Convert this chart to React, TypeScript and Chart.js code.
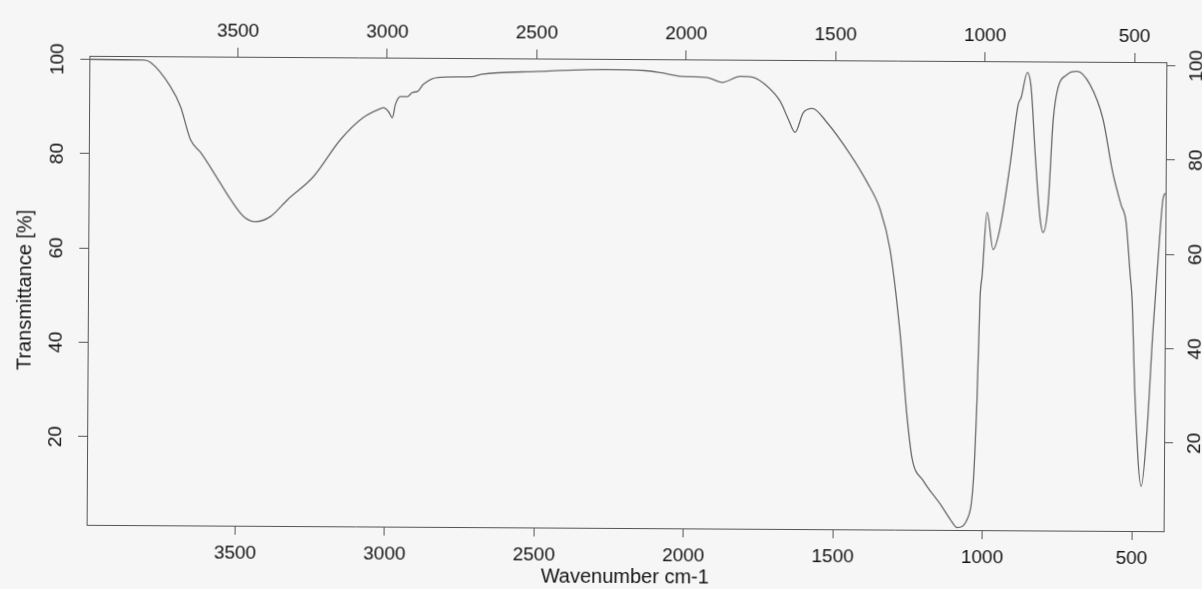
import React, { useEffect, useRef } from 'react';
import { Chart, registerables } from 'chart.js';

Chart.register(...registerables);

// Wavenumber (cm-1), high to low
const wavenumbers = [
  3995, 3816, 3792, 3725, 3691, 3657, 3623, 3579, 3522, 3478, 3438, 3388, 3331, 3245, 3155,
  3079, 3022, 3012, 2995, 2982, 2972, 2955, 2932, 2915, 2898, 2879, 2831, 2718, 2685, 2494,
  2273, 2139, 2087, 2009, 1929, 1879, 1818, 1775, 1728, 1684, 1657, 1634, 1607, 1577, 1527,
  1449, 1392, 1348, 1314, 1279, 1254, 1236, 1199, 1141, 1107, 1084, 1051, 1031, 1020, 1012,
  1005, 990, 969, 946, 914, 888, 878, 858, 845, 830, 813, 802, 786, 771, 758,
  725, 692, 648, 604, 571, 542, 525, 510, 503, 491, 469, 451, 433, 411, 402, 395,
];

// Transmittance (%) at each wavenumber above
const transmittance = [
  100.0, 99.9, 99.4, 94.3, 90.1, 83.1, 80.4, 76.2, 70.5, 66.9, 65.8, 66.9, 70.5, 75.4, 83.3,
  88.0, 89.9, 90.1, 89.3, 88.0, 90.8, 92.5, 92.5, 93.4, 93.6, 95.1, 96.6, 96.8, 97.3, 98.0,
  98.5, 98.3, 97.9, 97.1, 96.9, 95.9, 97.2, 97.0, 95.1, 91.9, 88.2, 85.4, 89.6, 90.5, 87.5,
  80.8, 74.9, 69.2, 60.7, 43.1, 25.4, 16.4, 11.8, 6.8, 3.55, 1.85, 3.55, 11.4, 29.0, 50.2,
  55.5, 68.7, 60.8, 65.5, 78.8, 91.6, 93.1, 98.4, 95.2, 81.0, 67.7, 64.5, 70.4, 88.0, 94.4,
  98.0, 98.7, 95.9, 88.6, 77.5, 70.5, 66.9, 55.7, 50.4, 29.2, 10.8, 22.2, 43.4, 64.6, 71.6, 73.0,
];

const xTickValues = [3500, 3000, 2500, 2000, 1500, 1000, 500];
const yTickValues = [20, 40, 60, 80, 100];

const xTitle = 'Wavenumber cm-1';
const yTitle = 'Transmittance [%]';

const xMin = 393;
const xMax = 3997;
const yMin = 1.33;
const yMax = 100.74;

export default function App() {
  const ref = useRef<HTMLCanvasElement>(null);

  useEffect(() => {
    document.body.style.margin = '0';
    document.body.style.background = '#f6f6f6';
    const canvas = ref.current;
    if (!canvas) return;

    const family = '"Liberation Sans", Arial, Helvetica, sans-serif';
    const tickFont = { family, size: 19 };
    const titleFont = { family, size: 20 };
    const axisColor = '#555555';
    const textColor = '#141414';

    const fixSize = (size: number) => (scale: any) => {
      if (scale.isHorizontal()) scale.height = size;
      else scale.width = size;
    };
    const setTicks = (vals: number[]) => (scale: any) => {
      scale.ticks = vals.map((v) => ({ value: v }));
    };
    const gridOpts = {
      drawOnChartArea: false,
      drawTicks: true,
      tickLength: 9,
      color: axisColor,
      lineWidth: 1,
    };
    const borderOpts = { display: true, color: axisColor, width: 1 };

    const xAxis = (position: string, size: number, pad: number, withTitle: boolean) => ({
      type: 'linear',
      position,
      min: xMin,
      max: xMax,
      reverse: true,
      afterBuildTicks: setTicks(xTickValues),
      afterFit: fixSize(size),
      grid: gridOpts,
      border: borderOpts,
      ticks: {
        font: tickFont,
        color: textColor,
        padding: pad,
        autoSkip: false,
        minRotation: 0,
        maxRotation: 0,
        callback: (v: any) => String(v),
      },
      title: {
        display: withTitle,
        text: xTitle,
        font: titleFont,
        color: textColor,
        padding: { top: 0, bottom: 0 },
      },
    });

    const yAxis = (position: string, size: number, pad: number, withTitle: boolean) => ({
      type: 'linear',
      position,
      min: yMin,
      max: yMax,
      afterBuildTicks: setTicks(yTickValues),
      afterFit: fixSize(size),
      grid: gridOpts,
      border: borderOpts,
      ticks: {
        font: tickFont,
        color: textColor,
        padding: pad,
        autoSkip: false,
        minRotation: 90,
        maxRotation: 90,
        crossAlign: 'center',
        callback: (v: any) => String(v),
      },
      title: {
        display: withTitle,
        text: yTitle,
        font: titleFont,
        color: textColor,
        padding: { top: 13, bottom: 0 },
      },
    });

    const bgPlugin = {
      id: 'bg',
      beforeDraw(chart: any) {
        const c = chart.ctx;
        c.save();
        c.fillStyle = '#f6f6f6';
        c.fillRect(0, 0, chart.width, chart.height);
        c.restore();
      },
    };

    const chart = new Chart(canvas, {
      type: 'line',
      data: {
        datasets: [
          {
            data: wavenumbers.map((w, i) => ({ x: w, y: transmittance[i] })),
            borderColor: '#6a6a6a',
            borderWidth: 1.3,
            pointRadius: 0,
            fill: false,
            cubicInterpolationMode: 'monotone',
            xAxisID: 'x',
            yAxisID: 'y',
          },
        ],
      },
      options: {
        responsive: false,
        animation: false,
        events: [],
        layout: { padding: 0 },
        plugins: {
          legend: { display: false },
          tooltip: { enabled: false },
          title: { display: false },
        },
        scales: {
          x: xAxis('bottom', 61, 7, true),
          x2: xAxis('top', 59, 5, false),
          y: yAxis('left', 88, 6, true),
          y2: yAxis('right', 37, 6, false),
        } as any,
      },
      plugins: [bgPlugin],
    } as any);

    return () => chart.destroy();
  }, []);

  return (
    <canvas
      ref={ref}
      width={1202}
      height={589}
      style={{
        display: 'block',
        transform: 'rotate(0.34deg)',
        transformOrigin: '625px 293px',
      }}
    />
  );
}
